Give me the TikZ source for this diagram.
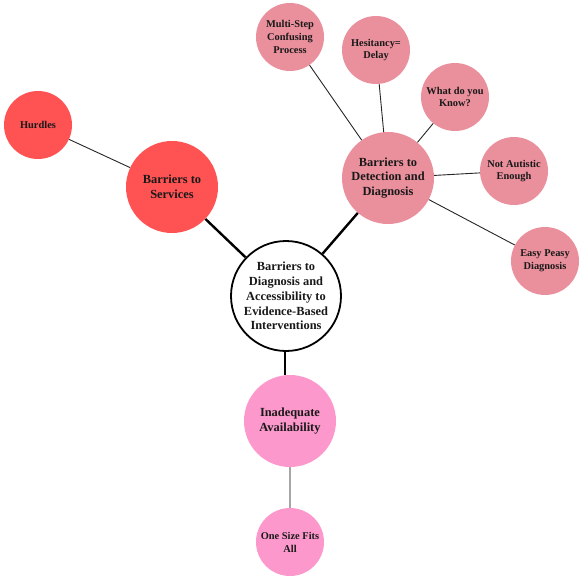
\documentclass[tikz,border=0pt]{standalone}
\usepackage{fontspec}
\setmainfont{Liberation Serif}
\usepackage{xcolor}
\usetikzlibrary{positioning}

\definecolor{servred}{RGB}{255,82,82}
\definecolor{detpink}{RGB}{234,143,156}
\definecolor{avapink}{RGB}{252,152,204}

\begin{document}
\begin{tikzpicture}[
    x=1pt, y=-1pt,
    bubble/.style  = {circle, inner sep=0pt, align=center, text=black!90,
                      font=\bfseries\fontsize{12.4}{14.8}\selectfont},
    hub/.style     = {bubble, draw=black, line width=1.8pt, fill=white,
                      minimum size=110pt},
    theme/.style   = {bubble, minimum size=92pt},
    leaf/.style    = {bubble, minimum size=68pt,
                      font=\bfseries\fontsize{10.4}{12.8}\selectfont},
    mainlink/.style = {line width=2.4pt, black},
    sublink/.style  = {line width=0.9pt, black!85},
]
\useasboundingbox (0,0) rectangle (583,580);

% centre
\node[hub] (hub) at (286,296)
    {Barriers to\\ Diagnosis and\\ Accessibility to\\ Evidence-Based\\ Interventions};

% themes
\node[theme, fill=servred] (serv) at (172,187) {Barriers to\\ Services};
\node[theme, fill=detpink] (detect) at (388,178) {Barriers to\\ Detection and\\ Diagnosis};
\node[theme, fill=avapink] (avail) at (290,421) {Inadequate\\ Availability};

% sub-themes
\node[leaf, fill=servred] (hurdles) at (38,125) {Hurdles};
\node[leaf, fill=detpink] (multi) at (290,37) {Multi-Step\\ Confusing\\ Process};
\node[leaf, fill=detpink] (hesit) at (376,50) {Hesitancy=\\ Delay};
\node[leaf, fill=detpink] (know) at (455,97) {What do you\\ Know?};
\node[leaf, fill=detpink] (notaut) at (514,171) {Not Autistic\\ Enough};
\node[leaf, fill=detpink] (easy) at (545,261) {Easy Peasy\\ Diagnosis};
\node[leaf, fill=avapink] (onesize) at (290,542) {One Size Fits\\ All};

% links
\draw[mainlink] (hub) -- (serv);
\draw[mainlink] (hub) -- (detect);
\draw[mainlink] (hub.south -| 285,0) -- (avail.north -| 285,0);

\draw[sublink] (serv) -- (hurdles);
\draw[sublink] (detect) -- (multi);
\draw[sublink] (detect) -- (hesit);
\draw[sublink] (detect) -- (know);
\draw[sublink] (detect) -- (notaut);
\draw[sublink] (detect) -- (easy);
\draw[line width=1.6pt, black!35] (avail) -- (onesize);
\end{tikzpicture}
\end{document}
